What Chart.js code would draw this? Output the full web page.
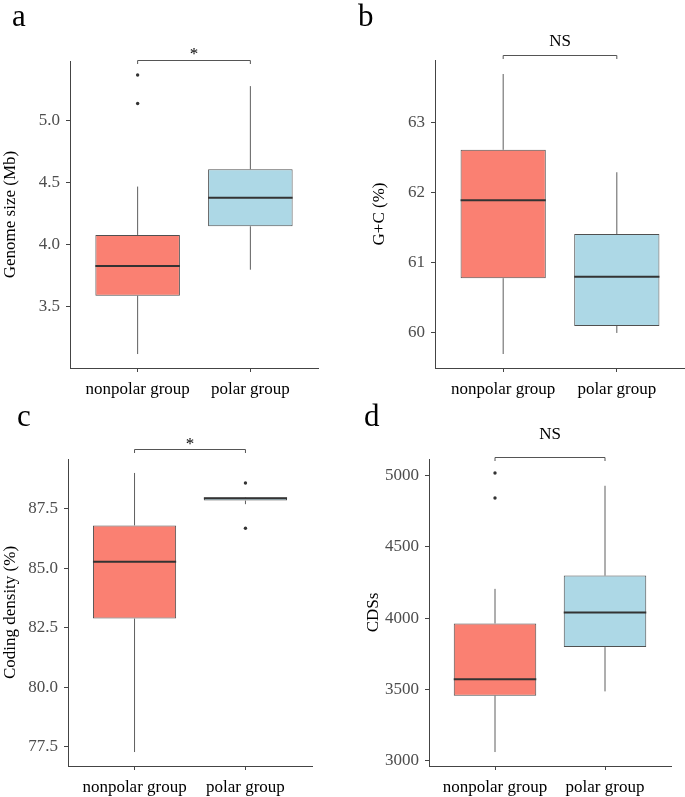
<!DOCTYPE html>
<html>
<head>
<meta charset="utf-8">
<script src="https://cdn.jsdelivr.net/npm/chart.js@4.4.0/dist/chart.umd.min.js"></script>
<style>
  body { margin: 0; background: #fff; }
  #wrap { position: relative; width: 685px; height: 797px; overflow: hidden; }
  canvas { position: absolute; }
  .letter { position: absolute; font-family: "Liberation Serif", serif; font-size: 31px; line-height: 1; color: #000; }
</style>
</head>
<body>
<div id="wrap">
  <canvas id="pa" width="340" height="400" style="left:0;top:0"></canvas>
  <canvas id="pb" width="345" height="400" style="left:340px;top:0"></canvas>
  <canvas id="pc" width="340" height="397" style="left:0;top:400px"></canvas>
  <canvas id="pd" width="345" height="397" style="left:340px;top:400px"></canvas>
  <div class="letter" style="left:12px;top:0">a</div>
  <div class="letter" style="left:358px;top:0">b</div>
  <div class="letter" style="left:17px;top:400px">c</div>
  <div class="letter" style="left:364px;top:400px">d</div>
</div>
<script>
const groups = ["nonpolar group", "polar group"];

// a: genome size (Mb)
const genomeMin = [3.12, 3.80];
const genomeQ1 = [3.59, 4.15];
const genomeMedian = [3.83, 4.38];
const genomeQ3 = [4.08, 4.61];
const genomeMax = [4.47, 5.28];
const genomeOutliers = [[5.37, 5.14], []];
const genomeTicks = [3.5, 4.0, 4.5, 5.0];

// b: G+C (%)
const gcMin = [59.70, 60.00];
const gcQ1 = [60.78, 60.10];
const gcMedian = [61.89, 60.80];
const gcQ3 = [62.61, 61.41];
const gcMax = [63.69, 62.29];
const gcOutliers = [[], []];
const gcTicks = [60, 61, 62, 63];

// c: coding density (%)
const codingMin = [77.28, 87.68];
const codingQ1 = [82.88, 87.83];
const codingMedian = [85.26, 87.93];
const codingQ3 = [86.79, 87.96];
const codingMax = [88.99, 87.98];
const codingOutliers = [[], [88.57, 86.67]];
const codingTicks = [77.5, 80.0, 82.5, 85.0, 87.5];

// d: CDSs
const cdsMin = [3060, 3486];
const cdsQ1 = [3456, 3797];
const cdsMedian = [3572, 4040];
const cdsQ3 = [3963, 4299];
const cdsMax = [4206, 4930];
const cdsOutliers = [[5020, 4844], []];
const cdsTicks = [3000, 3500, 4000, 4500, 5000];

// significance brackets
const sigLabels = ["*", "NS", "*", "NS"];
const sigLevels = [5.49, 63.96, 89.98, 5129];

const boxColors = ["#FA8072", "#ADD8E6"];
const font = "Liberation Serif";

function makePanel(id, s) {
	let all = s.min.concat(s.max, ...s.outliers);
	let lo = Math.min(...all), hi = Math.max(...all);
	let pad = (hi - lo) * 0.05;

	let outPts = [];
	s.outliers.forEach((arr, i) => arr.forEach((v) => outPts.push({ x: i + 1, y: v })));

	let extras = {
		id: "boxExtras",
		beforeDatasetsDraw(chart) {
			let ctx = chart.ctx, x = chart.scales.x, y = chart.scales.y;
			ctx.save();
			ctx.strokeStyle = "#5e5e5e";
			ctx.lineWidth = 1;
			s.min.forEach((v, i) => {
				let px = x.getPixelForValue(i + 1);
				ctx.beginPath();
				ctx.moveTo(px, y.getPixelForValue(s.q3[i]));
				ctx.lineTo(px, y.getPixelForValue(s.max[i]));
				ctx.moveTo(px, y.getPixelForValue(s.q1[i]));
				ctx.lineTo(px, y.getPixelForValue(v));
				ctx.stroke();
			});
			ctx.restore();
		},
		afterDatasetsDraw(chart) {
			let ctx = chart.ctx, y = chart.scales.y;
			let bars = chart.getDatasetMeta(0).data;
			ctx.save();
			ctx.strokeStyle = "#333";
			ctx.lineWidth = 2;
			s.median.forEach((v, i) => {
				let b = bars[i];
				let py = y.getPixelForValue(v);
				ctx.beginPath();
				ctx.moveTo(b.x - b.width / 2, py);
				ctx.lineTo(b.x + b.width / 2, py);
				ctx.stroke();
			});
			ctx.restore();
		},
		afterDraw(chart) {
			let ctx = chart.ctx, x = chart.scales.x, y = chart.scales.y;
			let x1 = x.getPixelForValue(1), x2 = x.getPixelForValue(2);
			let py = Math.round(y.getPixelForValue(s.sig)) + 0.5;
			ctx.save();
			ctx.strokeStyle = "#555";
			ctx.lineWidth = 1;
			ctx.beginPath();
			ctx.moveTo(x1, py + 3.5);
			ctx.lineTo(x1, py);
			ctx.lineTo(x2, py);
			ctx.lineTo(x2, py + 3.5);
			ctx.stroke();
			ctx.fillStyle = "#000";
			ctx.font = "17px '" + font + "'";
			ctx.textAlign = "center";
			ctx.textBaseline = "alphabetic";
			ctx.fillText(s.label, (x1 + x2) / 2, py - s.labelGap);
			ctx.restore();
		},
	};

	return new Chart(document.getElementById(id), {
		type: "bar",
		data: {
			datasets: [
				{
					type: "bar",
					data: s.q1.map((q, i) => ({ x: i + 1, y: [q, s.q3[i]] })),
					backgroundColor: boxColors,
					borderColor: "#505050",
					borderWidth: 1,
					borderSkipped: false,
					categoryPercentage: 1,
					barPercentage: 0.75,
				},
				{
					type: "scatter",
					data: outPts,
					pointRadius: 1.7,
					pointBackgroundColor: "#333",
					pointBorderWidth: 0,
				},
			],
		},
		options: {
			responsive: false,
			animation: false,
			layout: { padding: s.padding },
			plugins: { legend: { display: false }, tooltip: { enabled: false } },
			scales: {
				x: {
					type: "linear",
					min: 0.4,
					max: 2.6,
					offset: false,
					afterBuildTicks: (sc) => { sc.ticks = [{ value: 1 }, { value: 2 }]; },
					afterFit: (sc) => { sc.height = s.xHeight; },
					ticks: {
						autoSkip: false,
						maxRotation: 0,
						padding: 7,
						color: "#000",
						font: { family: font, size: 17 },
						callback: (v) => groups[v - 1],
					},
					grid: { offset: false, drawOnChartArea: false, drawTicks: true, tickLength: 4, color: "#444" },
					border: { display: true, color: "#444", width: 1 },
				},
				y: {
					type: "linear",
					min: lo - pad,
					max: hi + pad,
					afterBuildTicks: (sc) => { sc.ticks = s.ticks.map((v) => ({ value: v })); },
					afterFit: (sc) => { sc.width = s.yWidth; },
					ticks: {
						padding: 6,
						color: "#4d4d4d",
						font: { family: font, size: 17 },
						callback: (v) => (s.decimals ? v.toFixed(s.decimals) : v),
					},
					grid: { drawOnChartArea: false, drawTicks: true, tickLength: 4, color: "#444" },
					border: { display: true, color: "#444", width: 1 },
					title: {
						display: true,
						text: s.title,
						color: "#000",
						font: { family: font, size: 17 },
						padding: { top: s.titlePad, bottom: 0 },
					},
				},
			},
		},
		plugins: [extras],
	});
}

makePanel("pa", {
	min: genomeMin, q1: genomeQ1, median: genomeMedian, q3: genomeQ3, max: genomeMax,
	outliers: genomeOutliers, ticks: genomeTicks, decimals: 1,
	title: "Genome size (Mb)", sig: sigLevels[0], label: sigLabels[0], labelGap: 2,
	padding: { top: 61, right: 22, left: 0, bottom: 0 }, yWidth: 70, xHeight: 32, titlePad: 0,
});
makePanel("pb", {
	min: gcMin, q1: gcQ1, median: gcMedian, q3: gcQ3, max: gcMax,
	outliers: gcOutliers, ticks: gcTicks, decimals: 0,
	title: "G+C (%)", sig: sigLevels[1], label: sigLabels[1], labelGap: 10,
	padding: { top: 60, right: 0, left: 0, bottom: 0 }, yWidth: 95, xHeight: 32, titlePad: 29,
});
makePanel("pc", {
	min: codingMin, q1: codingQ1, median: codingMedian, q3: codingQ3, max: codingMax,
	outliers: codingOutliers, ticks: codingTicks, decimals: 1,
	title: "Coding density (%)", sig: sigLevels[2], label: sigLabels[2], labelGap: 0.5,
	padding: { top: 59, right: 28, left: 0, bottom: 0 }, yWidth: 68, xHeight: 31, titlePad: 0,
});
makePanel("pd", {
	min: cdsMin, q1: cdsQ1, median: cdsMedian, q3: cdsQ3, max: cdsMax,
	outliers: cdsOutliers, ticks: cdsTicks, decimals: 0,
	title: "CDSs", sig: sigLevels[3], label: sigLabels[3], labelGap: 18.5,
	padding: { top: 59, right: 14, left: 0, bottom: 0 }, yWidth: 89, xHeight: 31, titlePad: 23,
});
</script>
</body>
</html>
